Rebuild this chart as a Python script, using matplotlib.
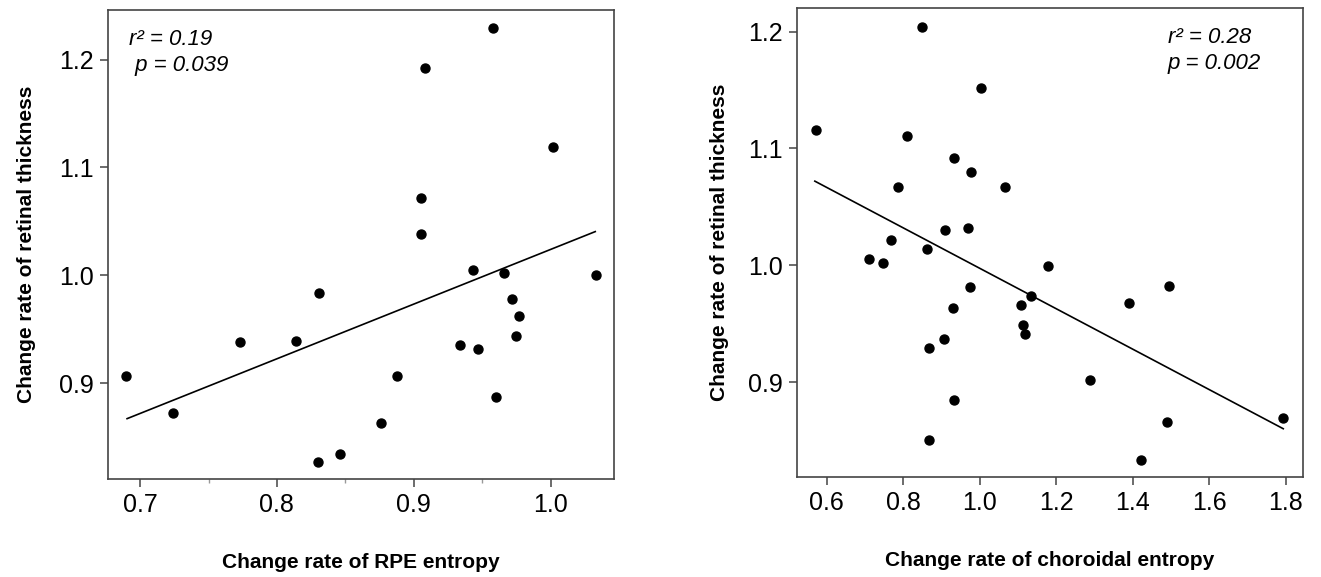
import matplotlib
matplotlib.use("Agg")
import matplotlib.pyplot as plt
from matplotlib.ticker import MultipleLocator

plt.rcParams['font.family'] = ['Liberation Sans', 'DejaVu Sans']

# left panel: RPE entropy vs retinal thickness
rpe_x = [0.690, 0.724, 0.773, 0.814, 0.831, 0.830, 0.846, 0.876, 0.888, 0.905,
         0.905, 0.908, 0.958, 0.934, 0.947, 0.943, 0.960, 0.966, 0.972, 0.977,
         0.975, 1.002, 1.033]
rpe_y = [0.907, 0.872, 0.938, 0.939, 0.984, 0.827, 0.834, 0.863, 0.907, 1.038,
         1.072, 1.192, 1.229, 0.935, 0.932, 1.005, 0.887, 1.002, 0.978, 0.962,
         0.944, 1.119, 1.000]
rpe_fit_x = [0.6905, 1.0326]
rpe_fit_y = [0.867, 1.0405]
rpe_stats = ["r² = 0.19", " p = 0.039"]

# right panel: choroidal entropy vs retinal thickness
cho_x = [0.571, 0.849, 1.002, 0.809, 0.933, 0.977, 0.787, 1.066, 0.769, 0.863,
         0.908, 0.970, 0.711, 0.746, 0.974, 1.179, 1.133, 1.108, 1.113, 1.118,
         0.930, 0.907, 0.868, 0.932, 0.867, 1.391, 1.494, 1.289, 1.490, 1.421,
         1.792]
cho_y = [1.116, 1.204, 1.152, 1.111, 1.092, 1.080, 1.067, 1.067, 1.022, 1.014,
         1.030, 1.032, 1.005, 1.002, 0.981, 0.999, 0.974, 0.966, 0.949, 0.941,
         0.963, 0.937, 0.929, 0.885, 0.850, 0.968, 0.982, 0.902, 0.866, 0.833,
         0.869]
cho_fit_x = [0.569, 1.793]
cho_fit_y = [1.072, 0.860]
cho_stats = ["r² = 0.28", "p = 0.002"]

fig = plt.figure(figsize=(13.21, 5.77), dpi=100)
ax1 = fig.add_axes([0.0818, 0.1698, 0.3830, 0.8128])
ax2 = fig.add_axes([0.6031, 0.1738, 0.3835, 0.8118])

def style(ax, pad):
    for s in ax.spines.values():
        s.set_color('#444444')
        s.set_linewidth(1.2)
    ax.tick_params(which='major', length=6, width=1.1, color='#444444',
                   labelsize=18, pad=4)
    ax.tick_params(which='minor', length=3, width=1.0, color='#999999')
    ax.set_ylabel("Change rate of retinal thickness", fontsize=15,
                  fontweight='bold', labelpad=pad)

def stats(ax, lines, x):
    ax.text(x, 0.96, lines[0], transform=ax.transAxes, fontsize=16,
            style='italic', va='top', ha='left')
    ax.text(x, 0.905, lines[1], transform=ax.transAxes, fontsize=16,
            style='italic', va='top', ha='left')

ax1.scatter(rpe_x, rpe_y, s=42, color='black', zorder=3)
ax1.plot(rpe_fit_x, rpe_fit_y, color='black', lw=1.2)
ax1.set_xlim(0.6766, 1.0463)
ax1.set_ylim(0.811, 1.246)
ax1.xaxis.set_minor_locator(MultipleLocator(0.05))
ax1.set_xticks([0.7, 0.8, 0.9, 1.0])
ax1.set_xticklabels(["0.7", "0.8", "0.9", "1.0"])
ax1.set_yticks([0.9, 1.0, 1.1, 1.2])
ax1.set_yticklabels(["0.9", "1.0", "1.1", "1.2"])
ax1.set_xlabel("Change rate of RPE entropy", fontsize=15, fontweight='bold',
               labelpad=26)
style(ax1, 17)
stats(ax1, rpe_stats, 0.042)

ax2.scatter(cho_x, cho_y, s=42, color='black', zorder=3)
ax2.plot(cho_fit_x, cho_fit_y, color='black', lw=1.2)
ax2.set_xlim(0.5216, 1.8454)
ax2.set_ylim(0.8189, 1.2200)
ax2.set_xticks([0.6, 0.8, 1.0, 1.2, 1.4, 1.6, 1.8])
ax2.set_xticklabels(["0.6", "0.8", "1.0", "1.2", "1.4", "1.6", "1.8"])
ax2.set_yticks([0.9, 1.0, 1.1, 1.2])
ax2.set_yticklabels(["0.9", "1.0", "1.1", "1.2"])
ax2.set_xlabel("Change rate of choroidal entropy", fontsize=15,
               fontweight='bold', labelpad=26)
style(ax2, 14)
stats(ax2, cho_stats, 0.733)

fig.savefig("out.png", dpi=100)
